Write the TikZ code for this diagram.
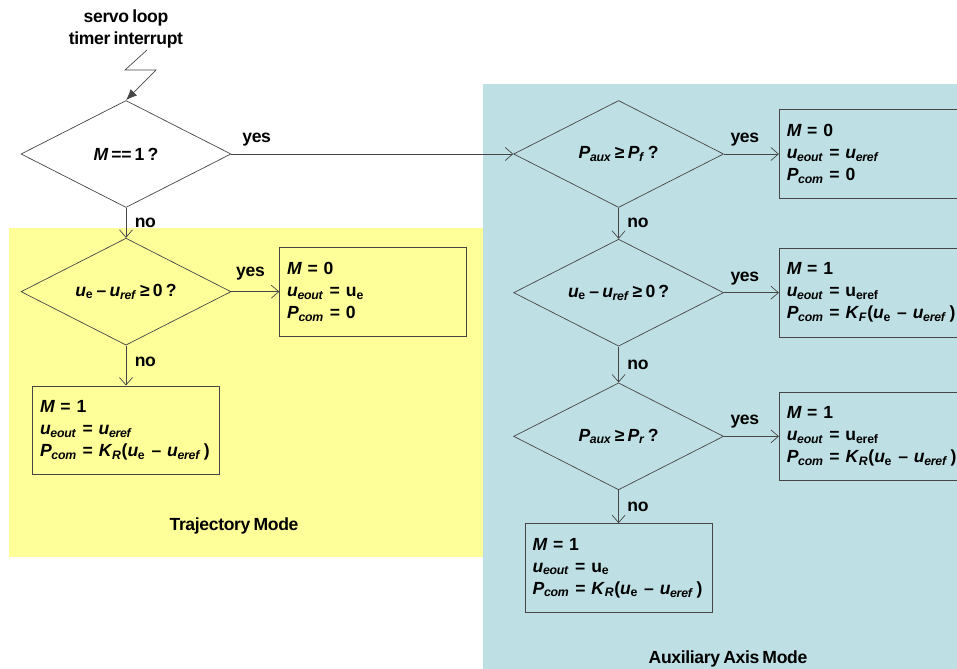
\documentclass[tikz,border=0pt]{standalone}
\usepackage{fontspec}
\setmainfont{Liberation Sans}[WordSpace=0.7, LetterSpace=-2]
\usetikzlibrary{arrows.meta,positioning,shapes.geometric}
\definecolor{trajyellow}{RGB}{255,255,153}
\definecolor{auxblue}{RGB}{190,224,228}
\definecolor{linegray}{RGB}{70,70,70}
\newcommand{\sbx}[1]{\textsubscript{#1}}
\newcommand{\vv}[1]{\textit{#1}}
\tikzset{
  decision/.style={draw=linegray, diamond, aspect=2, minimum width=4.2cm, minimum height=2.14cm, inner sep=0pt},
  action/.style={draw=linegray, rectangle, minimum height=1.78cm, minimum width=3.74cm, text width=3.44cm, inner xsep=0.15cm, align=left},
  arr/.style={draw=linegray, -{Straight Barb[length=1.5mm,width=2.6mm]}},
  yes/.style={above, pos=0.09, yshift=1pt},
  no/.style={right, xshift=1.5pt},
}

\begin{document}
\begin{tikzpicture}[x=0.02cm, y=-0.02cm, font=\bfseries\fontsize{10}{12.5}\selectfont]
\useasboundingbox (0,0) rectangle (957,669);
\clip (0,0) rectangle (957,669);
% mode regions
\fill[trajyellow] (9,228) rectangle (483,557);
\fill[auxblue] (483,84) rectangle (960,672);
\node (trajlbl) at (234,526) {Trajectory Mode};
\node (auxlbl) at (728,659) {Auxiliary Axis Mode};
% trajectory mode
\node[decision] (mode) at (126,154) {\vv{M} == 1 ?};
\node[decision, below=0.6cm of mode] (trajerr) {\vv{u}\sbx{e} – \vv{u}\sbx{\vv{ref}} ≥ 0 ?};
\node[action, right=0.96cm of trajerr] (trajyes) {\vv{M} = 0\\ \vv{u}\sbx{\vv{eout}} = u\sbx{e}\\ \vv{P}\sbx{\vv{com}} = 0};
\node[action, below=0.8cm of trajerr] (trajno) {\vv{M} = 1\\ \vv{u}\sbx{\vv{eout}} = \vv{u}\sbx{\vv{eref}}\\ \vv{P}\sbx{\vv{com}} = \vv{K}\sbx{\vv{R}}(\vv{u}\sbx{e} – \vv{u}\sbx{\vv{eref}}\,)};
% auxiliary axis mode
\node[decision, right=5.64cm of mode] (auxf) {\vv{P}\sbx{\vv{aux}} ≥ \vv{P}\sbx{\vv{f}}\,?};
\node[decision, below=0.62cm of auxf] (auxerr) {\vv{u}\sbx{e} – \vv{u}\sbx{\vv{ref}} ≥ 0 ?};
\node[decision, below=0.72cm of auxerr] (auxr) {\vv{P}\sbx{\vv{aux}} ≥ \vv{P}\sbx{\vv{r}}\,?};
\node[action, right=1.1cm of auxf] (auxfyes) {\vv{M} = 0\\ \vv{u}\sbx{\vv{eout}} = \vv{u}\sbx{\vv{eref}}\\ \vv{P}\sbx{\vv{com}} = 0};
\node[action, right=1.1cm of auxerr] (auxerryes) {\vv{M} = 1\\ \vv{u}\sbx{\vv{eout}} = u\sbx{eref}\\ \vv{P}\sbx{\vv{com}} = \vv{K}\sbx{\vv{F}}(\vv{u}\sbx{e} – \vv{u}\sbx{\vv{eref}}\,)};
\node[action, right=1.1cm of auxr] (auxryes) {\vv{M} = 1\\ \vv{u}\sbx{\vv{eout}} = u\sbx{eref}\\ \vv{P}\sbx{\vv{com}} = \vv{K}\sbx{\vv{R}}(\vv{u}\sbx{e} – \vv{u}\sbx{\vv{eref}}\,)};
\node[action, below=0.66cm of auxr] (auxrno) {\vv{M} = 1\\ \vv{u}\sbx{\vv{eout}} = u\sbx{e}\\ \vv{P}\sbx{\vv{com}} = \vv{K}\sbx{\vv{R}}(\vv{u}\sbx{e} – \vv{u}\sbx{\vv{eref}}\,)};
% interrupt
\node[align=center] (servo) at (126,29) {servo loop\\timer interrupt};
\coordinate (irq) at (147,50);
\draw[draw=linegray, -{Latex[length=2.2mm,width=1.8mm]}] (irq) -- ++(-22,20) -- ++(31,0) -- (mode.north);
% connectors
\draw[arr] (mode.east) -- node[yes]{yes} (auxf.west);
\draw[arr] (mode) -- node[no]{no} (trajerr);
\draw[arr] (trajerr.east) -- node[above, pos=0.4, yshift=3pt]{yes} (trajyes);
\draw[arr] (trajerr) -- node[no, pos=0.4]{no} (trajno);
\draw[arr] (auxf.east) -- node[above, pos=0.38, yshift=1pt]{yes} (auxfyes);
\draw[arr] (auxf) -- node[no]{no} (auxerr);
\draw[arr] (auxerr.east) -- node[above, pos=0.38, yshift=1pt]{yes} (auxerryes);
\draw[arr] (auxerr) -- node[no]{no} (auxr);
\draw[arr] (auxr.east) -- node[above, pos=0.38, yshift=1pt]{yes} (auxryes);
\draw[arr] (auxr) -- node[no]{no} (auxrno);
\end{tikzpicture}
\end{document}
